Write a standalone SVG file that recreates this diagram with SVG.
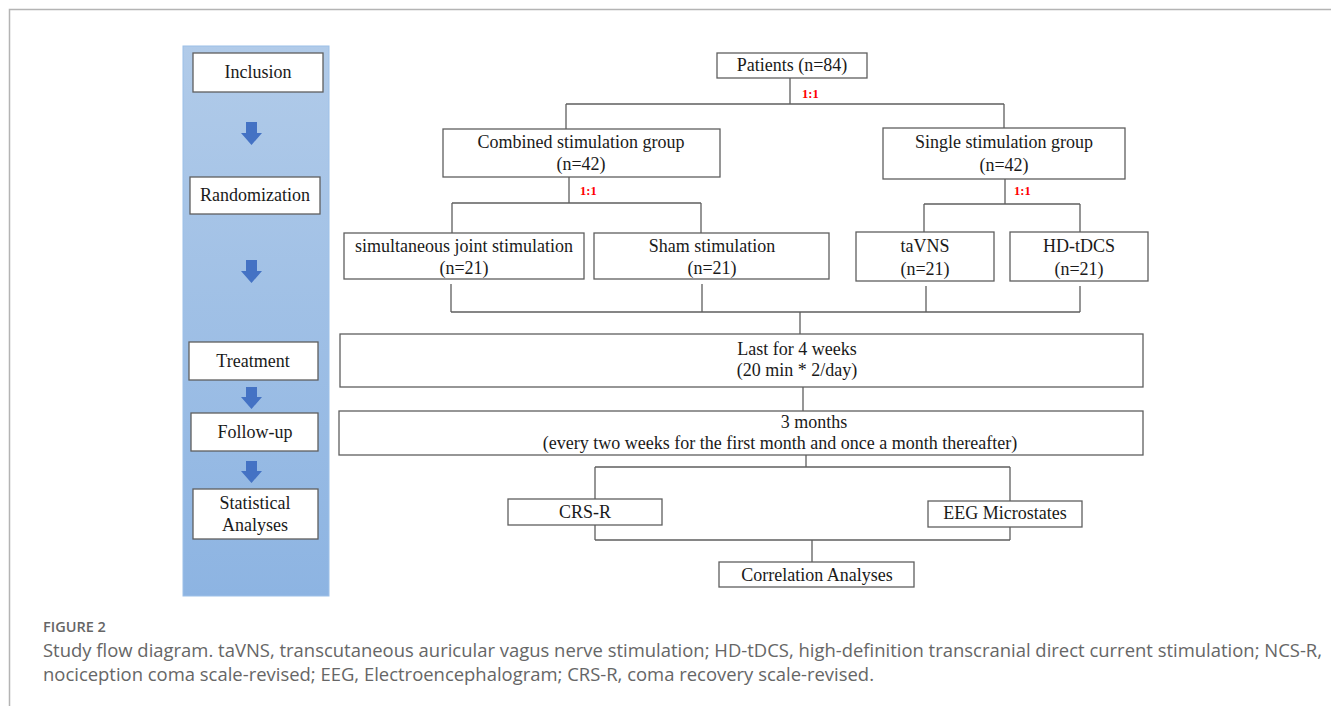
<svg xmlns="http://www.w3.org/2000/svg" width="1331" height="706" viewBox="0 0 1331 706">
<defs>
<linearGradient id="panelGrad" x1="0" y1="0" x2="0" y2="1">
<stop offset="0" stop-color="#b1cbe9"/>
<stop offset="1" stop-color="#8db4e2"/>
</linearGradient>
<style>
.box{fill:#fff;stroke:#5f5f5f;stroke-width:1.3}
.t{font-family:"Liberation Serif","Times New Roman",serif;font-size:18px;fill:#1a1a1a;text-anchor:middle}
.r{font-family:"Liberation Serif","Times New Roman",serif;font-size:12.5px;font-weight:bold;fill:#ff0000}
.ln{fill:none;stroke:#5f5f5f;stroke-width:1.3}
.arr{fill:#4472c4}
.cap{font-family:"Open Sans","Noto Sans",sans-serif;fill:#666}
</style>
</defs>
<rect width="1331" height="706" fill="#fff"/>
<path d="M9.5 706 V9.5 H1331" fill="none" stroke="#b4b4b4" stroke-width="1.5"/>

<g id="panel">
<rect x="183" y="46" width="146" height="550" fill="url(#panelGrad)" stroke="#9cc0e8" stroke-width="1"/>
</g>
<g id="stage-inclusion"><rect class="box" x="193" y="53" width="130" height="39"/><text class="t" x="258" y="78">Inclusion</text></g>
<g id="stage-randomization"><rect class="box" x="190" y="177" width="130" height="37"/><text class="t" x="255" y="201">Randomization</text></g>
<g id="stage-treatment"><rect class="box" x="189" y="342" width="129" height="38"/><text class="t" x="253" y="367">Treatment</text></g>
<g id="stage-followup"><rect class="box" x="191" y="413" width="127" height="38"/><text class="t" x="255" y="438">Follow-up</text></g>
<g id="stage-stats"><rect class="box" x="193" y="489" width="125" height="50"/><text class="t" x="255" y="509">Statistical</text><text class="t" x="255" y="531">Analyses</text></g>
<g id="stage-arrows">
<polygon class="arr" points="246,122 257,122 257,133 262,133 251.5,145 241,133 246,133"/>
<polygon class="arr" points="246,260 257,260 257,271 262,271 251.5,283 241,271 246,271"/>
<polygon class="arr" points="246,387 257,387 257,397 262,397 251.5,409 241,397 246,397"/>
<polygon class="arr" points="246,461 257,461 257,471 262,471 251.5,483 241,471 246,471"/>
</g>

<g id="connectors">
<path class="ln" d="M790 78 V104 M566 104 H1004 M566 104 V129 M1004 104 V128"/>
<path class="ln" d="M569 177 V203 M452 203 H701 M452 203 V233 M701 203 V233"/>
<path class="ln" d="M1005 179 V204 M924 204 H1080 M924 204 V232 M1080 204 V232"/>
<path class="ln" d="M451 284 V312 M702 284 V312 M926 286 V312 M1080 286 V312 M451 312 H1080 M800 312 V334"/>
<path class="ln" d="M803 387 V411"/>
<path class="ln" d="M806 455 V467 M595 467 H1010 M595 467 V499 M1010 467 V501"/>
<path class="ln" d="M595 525 V540 M1010 527 V540 M595 540 H1010 M812 540 V562"/>
<text class="r" x="802" y="98">1:1</text>
<text class="r" x="580" y="195">1:1</text>
<text class="r" x="1014" y="195">1:1</text>
</g>

<g id="patients"><rect class="box" x="717" y="53" width="150" height="25"/><text class="t" x="792" y="71">Patients (n=84)</text></g>
<g id="combined"><rect class="box" x="443" y="129" width="277" height="48"/><text class="t" x="581" y="148">Combined stimulation group</text><text class="t" x="581" y="170">(n=42)</text></g>
<g id="single"><rect class="box" x="883" y="128" width="242" height="51"/><text class="t" x="1004" y="148">Single stimulation group</text><text class="t" x="1004" y="171">(n=42)</text></g>
<g id="simultaneous"><rect class="box" x="344" y="233" width="240" height="46"/><text class="t" x="464" y="252">simultaneous joint stimulation</text><text class="t" x="464" y="274">(n=21)</text></g>
<g id="sham"><rect class="box" x="594" y="233" width="235" height="46"/><text class="t" x="712" y="252">Sham stimulation</text><text class="t" x="712" y="274">(n=21)</text></g>
<g id="tavns"><rect class="box" x="856" y="232" width="138" height="49"/><text class="t" x="925" y="252">taVNS</text><text class="t" x="925" y="275">(n=21)</text></g>
<g id="hdtdcs"><rect class="box" x="1010" y="232" width="138" height="49"/><text class="t" x="1079" y="252">HD-tDCS</text><text class="t" x="1079" y="275">(n=21)</text></g>
<g id="treatment"><rect class="box" x="340" y="334" width="803" height="53"/><text class="t" x="797" y="355">Last for 4 weeks</text><text class="t" x="797" y="376">(20 min * 2/day)</text></g>
<g id="followup"><rect class="box" x="339" y="411" width="804" height="44"/><text class="t" x="814" y="428">3 months</text><text class="t" x="780" y="449">(every two weeks for the first month and once a month thereafter)</text></g>
<g id="crsr"><rect class="box" x="508" y="499" width="154" height="26"/><text class="t" x="585" y="518">CRS-R</text></g>
<g id="eeg"><rect class="box" x="928" y="501" width="154" height="26"/><text class="t" x="1005" y="519">EEG Microstates</text></g>
<g id="correlation"><rect class="box" x="719" y="562" width="195" height="25"/><text class="t" x="817" y="581">Correlation Analyses</text></g>

<g id="caption">
<text class="cap" x="43" y="632" font-size="14.5" font-weight="600">FIGURE 2</text>
<text class="cap" x="43" y="657" font-size="17.5" textLength="1279" lengthAdjust="spacingAndGlyphs">Study flow diagram. taVNS, transcutaneous auricular vagus nerve stimulation; HD-tDCS, high-definition transcranial direct current stimulation; NCS-R,</text>
<text class="cap" x="43" y="681" font-size="17.5" textLength="831" lengthAdjust="spacingAndGlyphs">nociception coma scale-revised; EEG, Electroencephalogram; CRS-R, coma recovery scale-revised.</text>
</g>
</svg>
